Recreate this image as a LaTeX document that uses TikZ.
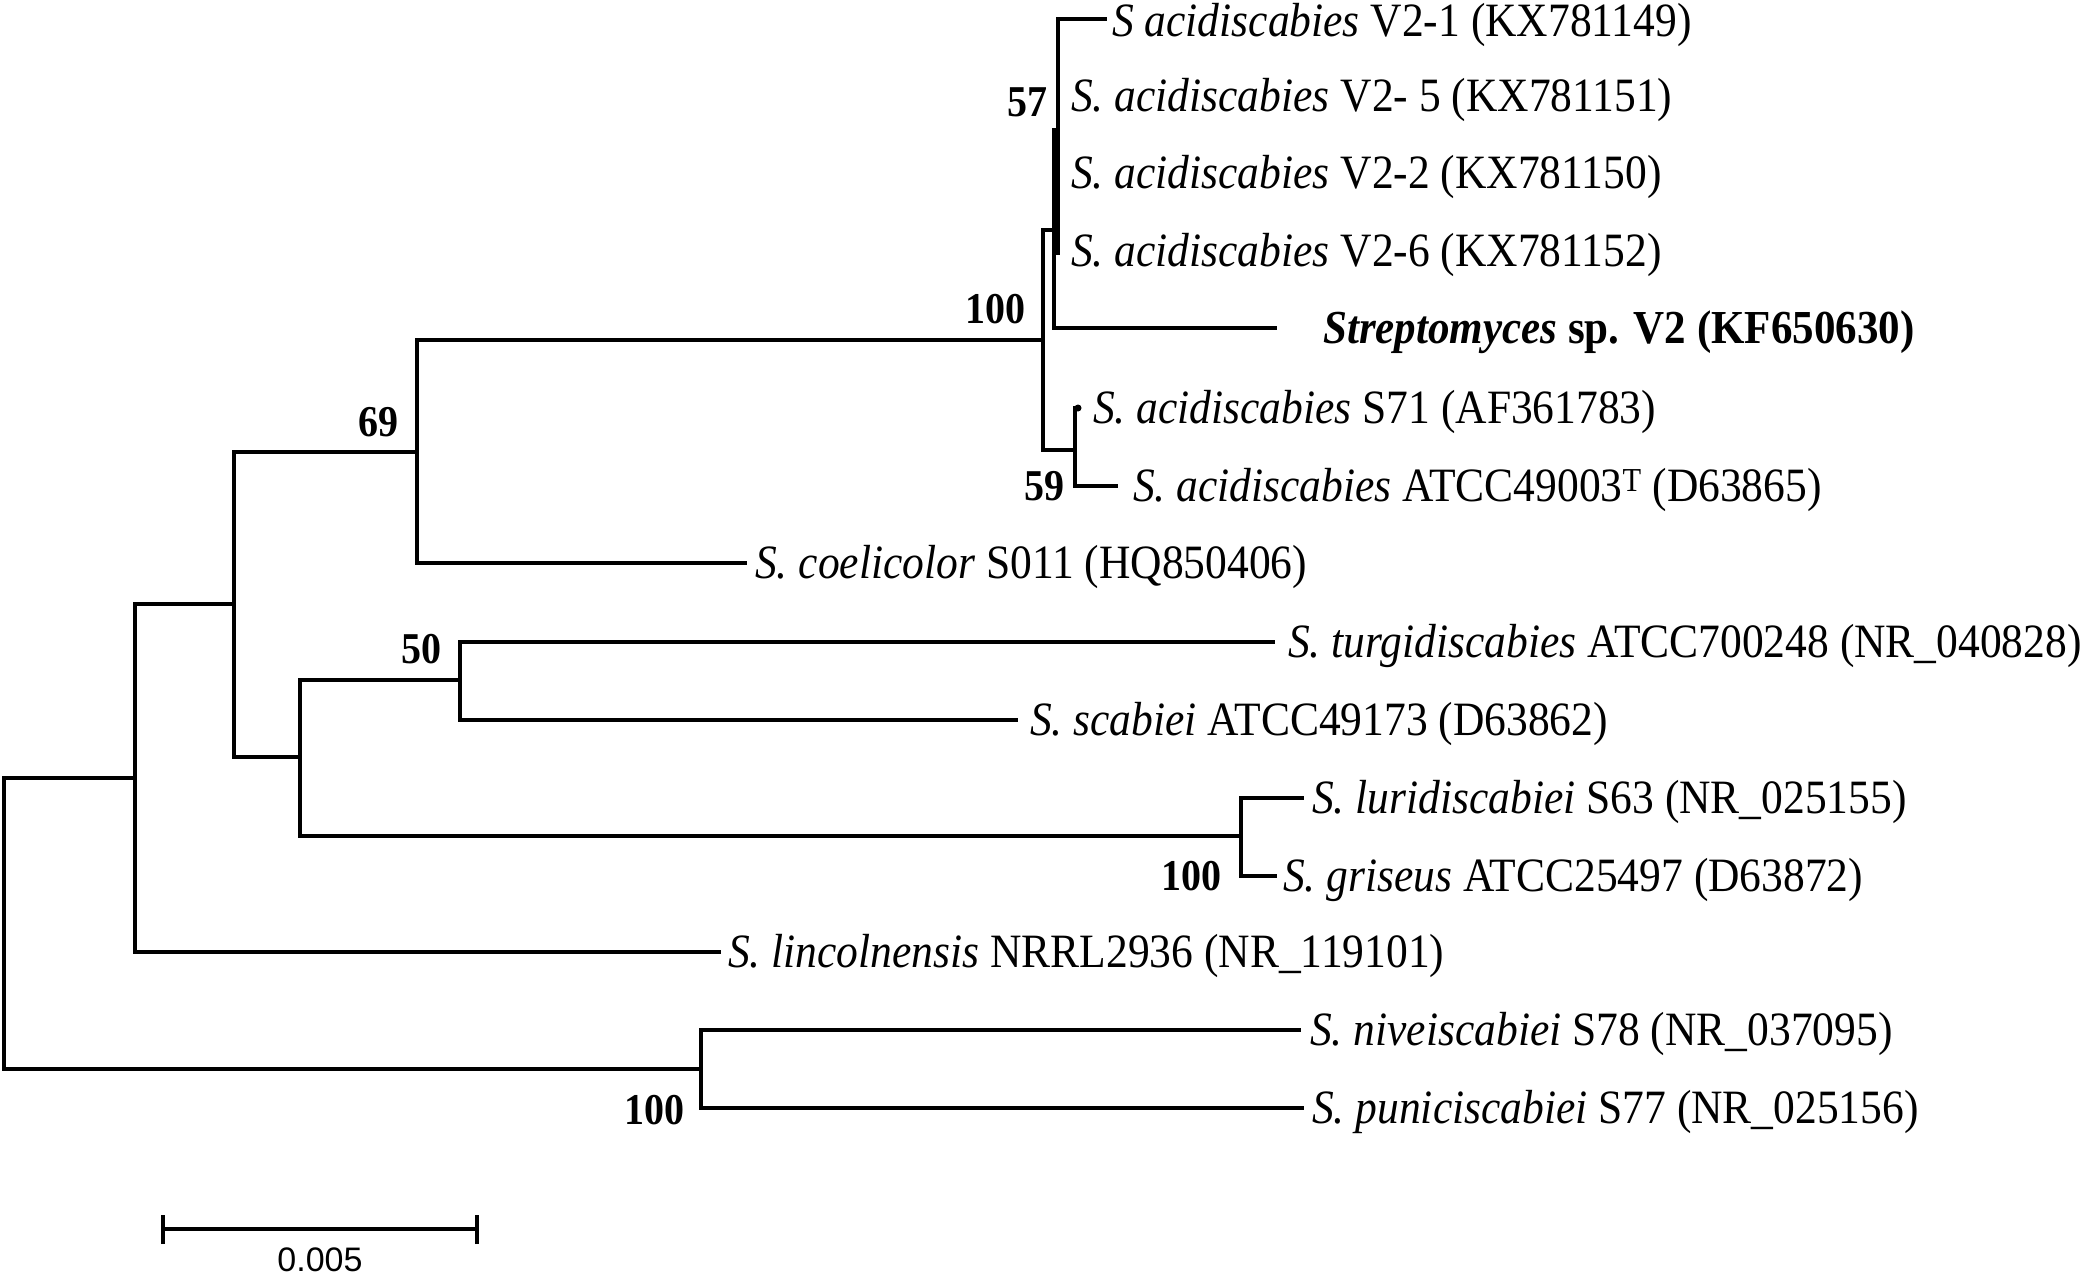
\documentclass[tikz,border=0pt]{standalone}
\usepackage{fontspec}
\usepackage{graphicx}
\setmainfont{Liberation Serif}
\setsansfont{Liberation Sans}
\newcommand\vst[1]{\scalebox{1}[1.1]{#1}}
\tikzset{
  br/.style={line width=3.5pt, line join=miter, line cap=rect},
  lab/.style={anchor=base west, inner sep=0pt, font=\fontsize{43.5}{50}\selectfont},
  boot/.style={anchor=base east, inner sep=0pt, font=\fontsize{40}{46}\selectfont\bfseries},
}
\begin{document}
\begin{tikzpicture}[x=1pt,y=-1pt]
\useasboundingbox (0,0) rectangle (2083,1277);
% internal nodes
\coordinate (root) at (4,923);
\coordinate (nA) at (135,778);
\coordinate (nB) at (234,604);
\coordinate (n69) at (417,452);
\coordinate (n100) at (1043,340);
\coordinate (nN1) at (1054,230);
\coordinate (n57) at (1058,130);
\coordinate (n57b) at (1058,253);
\coordinate (n59) at (1075,450);
\coordinate (nC) at (300,757);
\coordinate (n50) at (460,680);
\coordinate (nLG) at (1241,836);
\coordinate (nP) at (701,1069);
% leaf ends
\coordinate (e1) at (1105,19);
\coordinate (e5) at (1275,328);
\coordinate (e6) at (1078,408);
\coordinate (e7) at (1116,486);
\coordinate (e8) at (745,563);
\coordinate (e9) at (1273,642);
\coordinate (e10) at (1016,720);
\coordinate (e11) at (1302,798);
\coordinate (e12) at (1275,876);
\coordinate (e13) at (719,952);
\coordinate (e14) at (1299,1030);
\coordinate (e15) at (1302,1108);
% branches
\draw[br] (root) |- (nA);
\draw[br] (root) |- (nP);
\draw[br] (nA) |- (nB);
\draw[br] (nA) |- (e13);
\draw[br] (nB) |- (n69);
\draw[br] (nB) |- (nC);
\draw[br] (n69) |- (n100);
\draw[br] (n69) |- (e8);
\draw[br] (n100) |- (nN1);
\draw[br] (n100) |- (n59);
\draw[br] (nN1) |- (n57);
\draw[br] (nN1) |- (e5);
\draw[br] (n57) |- (e1);
\draw[br] (n57) -- (n57b);
\draw[br] (n59) |- (e6);
\draw[br] (n59) |- (e7);
\fill (e6) circle (3.5pt);
\draw[br] (nC) |- (n50);
\draw[br] (nC) |- (nLG);
\draw[br] (n50) |- (e9);
\draw[br] (n50) |- (e10);
\draw[br] (nLG) |- (e11);
\draw[br] (nLG) |- (e12);
\draw[br] (nP) |- (e14);
\draw[br] (nP) |- (e15);
% taxon labels
\node[lab] (l1) at (1112,19+17) {\vst{\textit{S acidiscabies} V2-1 (KX781149)}};
\node[lab] (l2) at (1071,96+15) {\vst{\textit{S. acidiscabies} V2- 5 (KX781151)}};
\node[lab] (l3) at (1071,173+15) {\vst{\textit{S. acidiscabies} V2-2 (KX781150)}};
\node[lab] (l4) at (1071,251+15) {\vst{\textit{S. acidiscabies} V2-6 (KX781152)}};
\node[lab, font=\fontsize{43}{50}\selectfont] (l5) at (1323,328+15) {\vst{\textbf{\textit{Streptomyces} sp. V2 (KF650630)}}};
\node[lab] (l6) at (1093,408+15) {\vst{\textit{S. acidiscabies} S71 (AF361783)}};
\node[lab] (l7) at (1133,486+15) {\vst{\textit{S. acidiscabies} ATCC49003\textsuperscript{T} (D63865)}};
\node[lab] (l8) at (755,563+15) {\vst{\textit{S. coelicolor} S011 (HQ850406)}};
\node[lab] (l9) at (1288,642+15) {\vst{\textit{S. turgidiscabies} ATCC700248 (NR\_040828)}};
\node[lab] (l10) at (1030,720+15) {\vst{\textit{S. scabiei} ATCC49173 (D63862)}};
\node[lab] (l11) at (1312,798+15) {\vst{\textit{S. luridiscabiei} S63 (NR\_025155)}};
\node[lab] (l12) at (1283,876+15) {\vst{\textit{S. griseus} ATCC25497 (D63872)}};
\node[lab] (l13) at (728,952+15) {\vst{\textit{S. lincolnensis} NRRL2936 (NR\_119101)}};
\node[lab] (l14) at (1310,1030+15) {\vst{\textit{S. niveiscabiei} S78 (NR\_037095)}};
\node[lab] (l15) at (1312,1108+15) {\vst{\textit{S. puniciscabiei} S77 (NR\_025156)}};
% bootstrap values
\node[boot] (b57) at (1048,116) {\vst{57}};
\node[boot] (b100a) at (1026,323) {\vst{100}};
\node[boot] (b59) at (1065,500) {\vst{59}};
\node[boot] (b69) at (399,436) {\vst{69}};
\node[boot] (b50) at (442,663) {\vst{50}};
\node[boot] (b100b) at (1222,890) {\vst{100}};
\node[boot] (b100c) at (685,1124) {\vst{100}};
% scale bar
\coordinate (s1) at (163,1229);
\coordinate (s2) at (477,1229);
\draw[line width=3.5pt] (s1) -- (s2);
\draw[line width=3.5pt] ([yshift=-15pt]s1) -- ([yshift=14pt]s1);
\draw[line width=3.5pt] ([yshift=-15pt]s2) -- ([yshift=14pt]s2);
\node[anchor=base, inner sep=0pt, font=\sffamily\fontsize{34}{40}\selectfont] (sl) at (320,1271) {0.005};
\end{tikzpicture}
\end{document}
